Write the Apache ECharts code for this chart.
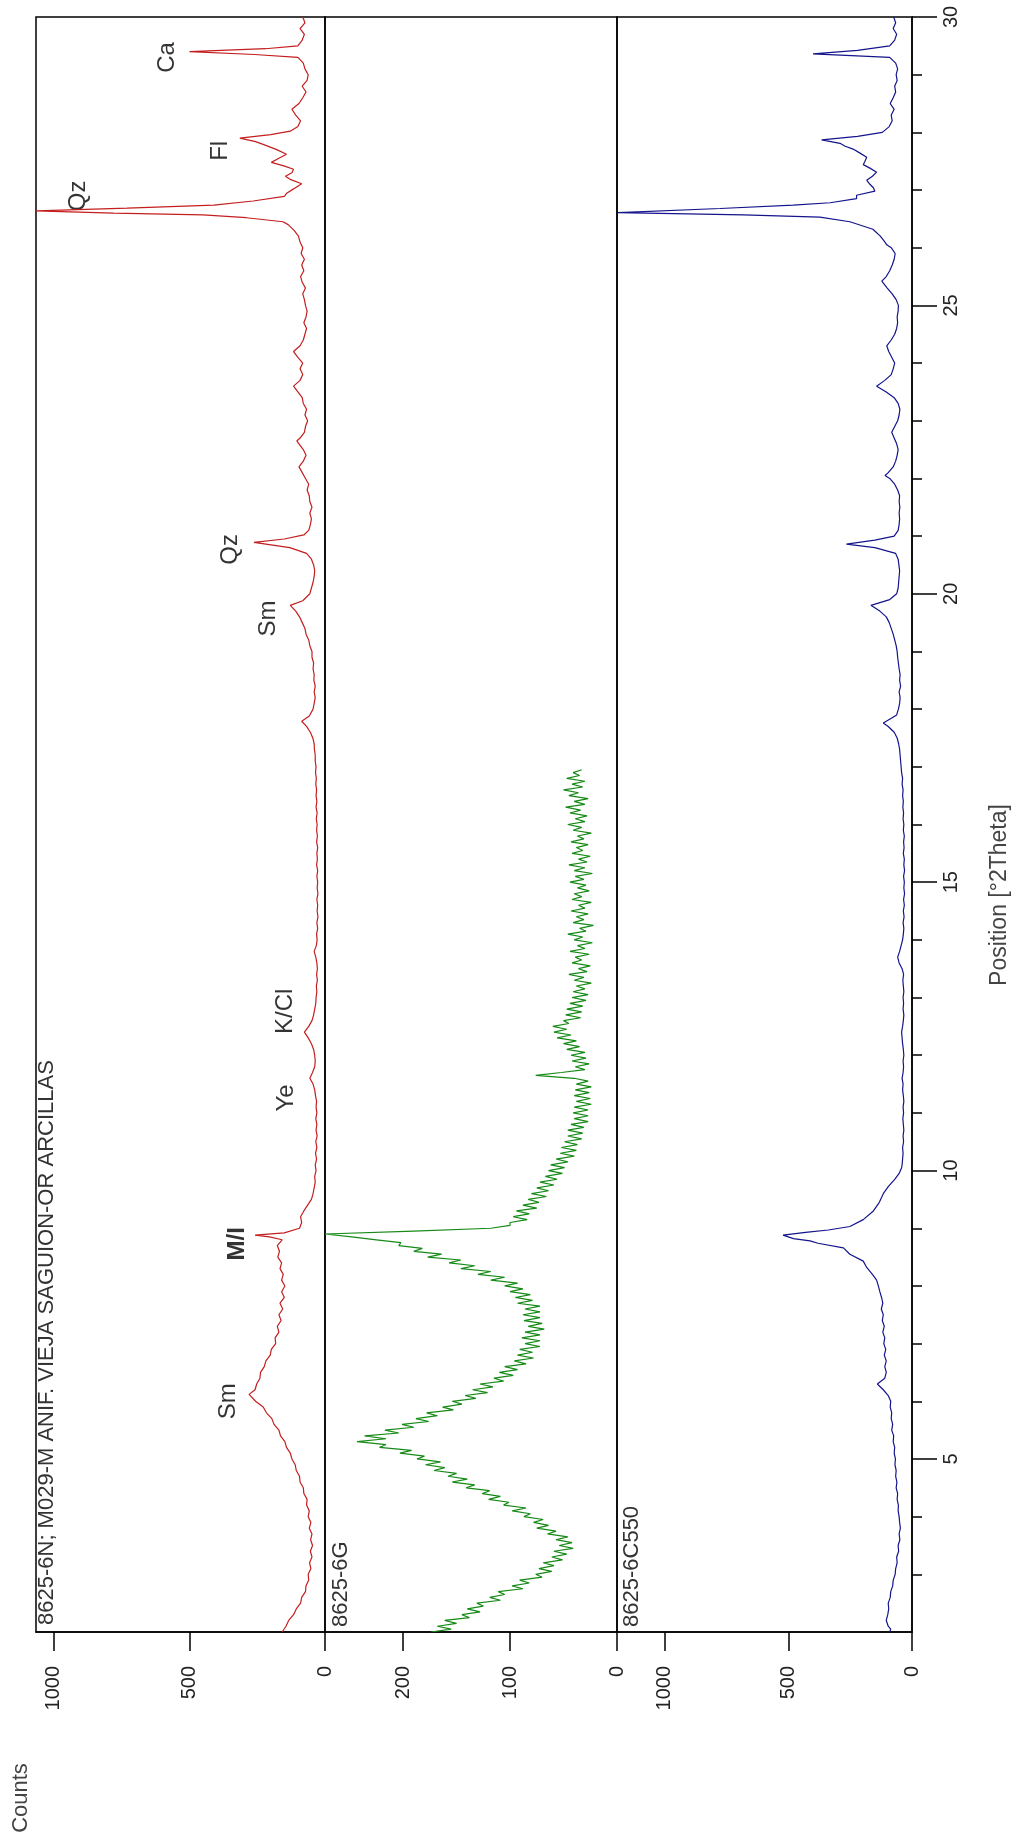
<!DOCTYPE html>
<html><head><meta charset="utf-8">
<script src="https://cdn.jsdelivr.net/npm/echarts@6/dist/echarts.min.js"></script>
<style>html,body{margin:0;padding:0;background:#fff}#c{width:1020px;height:1843px}</style>
</head><body><div id="c"></div>
<script>
// [2theta, counts]
const redScan = [[2.0,158],[2.1,144],[2.2,134],[2.3,116],[2.4,106],[2.5,90],[2.6,86],[2.7,72],[2.8,70],[2.9,60],[3.0,62],[3.1,52],[3.2,57],[3.3,48],[3.4,54],[3.5,46],[3.6,53],[3.7,48],[3.8,58],[3.9,52],[4.0,62],[4.1,58],[4.2,68],[4.3,66],[4.4,78],[4.5,80],[4.6,92],[4.7,94],[4.8,106],[4.9,110],[5.0,122],[5.1,128],[5.2,142],[5.3,148],[5.4,164],[5.5,170],[5.6,188],[5.7,196],[5.8,216],[5.9,228],[6.0,256],[6.12,280],[6.2,258],[6.3,252],[6.4,240],[6.5,238],[6.6,224],[6.7,218],[6.8,202],[6.9,198],[7.0,182],[7.1,184],[7.2,170],[7.3,176],[7.4,162],[7.5,170],[7.6,156],[7.7,166],[7.8,150],[7.9,160],[8.0,148],[8.1,160],[8.2,154],[8.3,166],[8.4,160],[8.5,174],[8.6,168],[8.7,176],[8.8,158],[8.85,205],[8.88,258],[8.92,150],[9.0,94],[9.1,86],[9.2,90],[9.3,78],[9.4,64],[9.5,50],[9.6,44],[9.7,40],[9.8,36],[9.9,38],[10.0,33],[10.1,36],[10.2,31],[10.3,35],[10.4,30],[10.5,34],[10.6,29],[10.7,33],[10.8,30],[10.9,34],[11.0,30],[11.1,33],[11.2,31],[11.3,35],[11.4,38],[11.5,44],[11.6,56],[11.7,46],[11.8,38],[11.9,36],[12.0,38],[12.1,42],[12.2,50],[12.3,62],[12.4,76],[12.5,60],[12.6,48],[12.7,42],[12.8,38],[12.9,34],[13.0,33],[13.1,30],[13.2,32],[13.3,28],[13.4,31],[13.5,28],[13.6,30],[13.7,34],[13.8,40],[13.9,32],[14.0,29],[14.1,31],[14.2,27],[14.3,30],[14.4,26],[14.5,29],[14.6,27],[14.7,30],[14.8,26],[14.9,29],[15.0,27],[15.1,30],[15.2,27],[15.3,31],[15.4,28],[15.5,30],[15.6,27],[15.7,31],[15.8,28],[15.9,31],[16.0,29],[16.1,32],[16.2,29],[16.3,33],[16.4,30],[16.5,33],[16.6,31],[16.7,34],[16.8,32],[16.9,35],[17.0,33],[17.1,36],[17.2,36],[17.3,39],[17.4,40],[17.5,45],[17.6,54],[17.7,68],[17.79,86],[17.88,58],[18.0,44],[18.1,40],[18.2,36],[18.3,40],[18.4,36],[18.5,41],[18.6,40],[18.7,44],[18.8,42],[18.9,48],[19.0,48],[19.1,56],[19.2,60],[19.3,70],[19.4,74],[19.5,84],[19.6,94],[19.7,108],[19.8,128],[19.88,82],[20.0,56],[20.1,50],[20.2,44],[20.3,40],[20.4,38],[20.5,42],[20.6,50],[20.7,68],[20.8,130],[20.89,262],[20.95,150],[21.02,78],[21.1,60],[21.2,54],[21.3,50],[21.4,56],[21.5,48],[21.6,56],[21.7,58],[21.8,66],[21.9,60],[22.0,72],[22.1,84],[22.2,96],[22.3,80],[22.4,70],[22.5,80],[22.6,96],[22.65,104],[22.7,92],[22.8,76],[22.9,72],[23.0,64],[23.1,74],[23.2,68],[23.3,80],[23.4,84],[23.5,100],[23.6,116],[23.7,92],[23.8,82],[23.9,92],[24.0,82],[24.1,100],[24.2,116],[24.3,92],[24.4,80],[24.5,74],[24.6,68],[24.7,78],[24.8,70],[24.9,66],[25.0,72],[25.1,76],[25.2,82],[25.3,72],[25.4,84],[25.5,90],[25.6,78],[25.7,86],[25.8,76],[25.9,88],[26.0,82],[26.1,92],[26.2,98],[26.3,114],[26.4,136],[26.45,155],[26.52,290],[26.57,450],[26.6,780],[26.64,1066],[26.685,730],[26.74,410],[26.81,265],[26.89,150],[26.95,140],[27.02,116],[27.11,86],[27.18,126],[27.24,146],[27.3,122],[27.36,116],[27.42,152],[27.48,198],[27.55,170],[27.62,142],[27.7,178],[27.77,216],[27.84,256],[27.9,314],[27.96,200],[28.02,128],[28.1,100],[28.2,90],[28.3,108],[28.4,122],[28.5,96],[28.6,82],[28.7,70],[28.8,84],[28.9,66],[29.0,62],[29.1,74],[29.2,80],[29.3,100],[29.35,260],[29.4,500],[29.45,220],[29.5,100],[29.6,84],[29.7,76],[29.8,92],[29.9,74],[30.0,82]];

const greenScan = [[2.0,174],[2.05,155],[2.1,168],[2.15,150],[2.2,161],[2.25,138],[2.3,145],[2.35,128],[2.4,140],[2.45,125],[2.5,131],[2.55,109],[2.6,119],[2.65,105],[2.7,111],[2.75,88],[2.8,98],[2.85,82],[2.9,91],[2.95,70],[3.0,76],[3.05,61],[3.1,73],[3.15,59],[3.2,69],[3.25,51],[3.3,61],[3.35,47],[3.4,59],[3.45,41],[3.5,54],[3.55,42],[3.6,57],[3.65,46],[3.7,65],[3.75,57],[3.8,75],[3.85,64],[3.9,78],[3.95,69],[4.0,87],[4.05,81],[4.1,98],[4.15,85],[4.2,106],[4.25,101],[4.3,120],[4.35,109],[4.4,126],[4.45,119],[4.5,141],[4.55,133],[4.6,154],[4.65,140],[4.7,158],[4.75,150],[4.8,171],[4.85,161],[4.9,179],[4.95,165],[5.0,187],[5.05,180],[5.1,203],[5.15,192],[5.2,222],[5.25,216],[5.3,243],[5.35,216],[5.4,236],[5.45,204],[5.5,217],[5.55,190],[5.6,201],[5.65,176],[5.7,188],[5.75,168],[5.8,178],[5.85,153],[5.9,163],[5.95,145],[6.0,154],[6.05,132],[6.1,142],[6.15,121],[6.2,135],[6.25,116],[6.3,128],[6.35,106],[6.4,115],[6.45,97],[6.5,110],[6.55,93],[6.6,105],[6.65,85],[6.7,96],[6.75,78],[6.8,93],[6.85,79],[6.9,91],[6.95,72],[7.0,86],[7.05,72],[7.1,89],[7.15,72],[7.2,86],[7.25,68],[7.3,83],[7.35,70],[7.4,87],[7.45,72],[7.5,88],[7.55,72],[7.6,86],[7.65,72],[7.7,93],[7.75,79],[7.8,95],[7.85,81],[7.9,100],[7.95,88],[8.0,105],[8.05,93],[8.1,118],[8.15,105],[8.2,130],[8.25,118],[8.3,146],[8.35,133],[8.4,157],[8.45,146],[8.5,177],[8.55,164],[8.6,190],[8.65,182],[8.7,204],[8.75,202],[8.8,225],[8.85,248],[8.9,273],[8.95,190],[9.0,118],[9.05,100],[9.1,100],[9.15,84],[9.2,97],[9.25,82],[9.3,94],[9.35,75],[9.4,88],[9.45,73],[9.5,83],[9.55,66],[9.6,80],[9.65,64],[9.7,75],[9.75,59],[9.8,72],[9.85,56],[9.9,67],[9.95,51],[10.0,64],[10.05,49],[10.1,62],[10.15,46],[10.2,57],[10.25,40],[10.3,53],[10.35,38],[10.4,52],[10.45,37],[10.5,49],[10.55,33],[10.6,46],[10.65,32],[10.7,46],[10.75,31],[10.8,43],[10.85,27],[10.9,40],[10.95,27],[11.0,41],[11.05,27],[11.1,40],[11.15,24],[11.2,38],[11.25,25],[11.3,40],[11.35,26],[11.4,39],[11.45,24],[11.5,38],[11.55,27],[11.6,40],[11.65,76],[11.7,52],[11.75,30],[11.8,39],[11.85,26],[11.9,42],[11.95,29],[12.0,43],[12.05,30],[12.1,47],[12.15,35],[12.2,50],[12.25,38],[12.3,56],[12.35,43],[12.4,59],[12.45,47],[12.5,60],[12.55,45],[12.6,50],[12.65,34],[12.7,48],[12.75,33],[12.8,47],[12.85,32],[12.9,44],[12.95,29],[13.0,42],[13.05,27],[13.1,41],[13.15,30],[13.2,38],[13.25,24],[13.3,40],[13.35,31],[13.4,45],[13.45,28],[13.5,36],[13.55,25],[13.6,42],[13.65,33],[13.7,39],[13.75,26],[13.8,44],[13.85,30],[13.9,37],[13.95,23],[14.0,40],[14.05,32],[14.1,46],[14.15,29],[14.2,35],[14.25,22],[14.3,41],[14.35,31],[14.4,38],[14.45,27],[14.5,43],[14.55,30],[14.6,36],[14.65,24],[14.7,42],[14.75,33],[14.8,40],[14.85,26],[14.9,37],[14.95,29],[15.0,44],[15.05,31],[15.1,39],[15.15,23],[15.2,40],[15.25,30],[15.3,45],[15.35,28],[15.4,36],[15.45,25],[15.5,42],[15.55,32],[15.6,38],[15.65,27],[15.7,43],[15.75,31],[15.8,37],[15.85,24],[15.9,41],[15.95,33],[16.0,46],[16.05,30],[16.1,39],[16.15,28],[16.2,44],[16.25,34],[16.3,48],[16.35,30],[16.4,40],[16.45,27],[16.5,45],[16.55,36],[16.6,50],[16.65,32],[16.7,42],[16.75,30],[16.8,47],[16.85,35],[16.9,41],[16.95,33]];

const blueScan = [[2.0,90],[2.05,86],[2.1,96],[2.2,104],[2.3,98],[2.4,94],[2.5,96],[2.6,88],[2.7,86],[2.8,78],[2.9,76],[3.0,68],[3.1,66],[3.2,60],[3.3,62],[3.4,54],[3.5,56],[3.6,49],[3.7,52],[3.8,47],[3.9,50],[4.0,52],[4.1,56],[4.2,55],[4.3,60],[4.4,58],[4.5,64],[4.6,61],[4.7,66],[4.8,64],[4.9,69],[5.0,67],[5.1,72],[5.2,70],[5.3,76],[5.4,74],[5.5,82],[5.6,78],[5.7,84],[5.8,82],[5.9,88],[6.0,86],[6.1,96],[6.2,116],[6.3,140],[6.4,110],[6.5,104],[6.6,110],[6.7,104],[6.8,112],[6.9,106],[7.0,114],[7.1,110],[7.2,118],[7.3,112],[7.4,120],[7.5,116],[7.6,124],[7.7,118],[7.8,123],[7.9,130],[8.0,136],[8.1,143],[8.2,160],[8.32,183],[8.43,197],[8.55,251],[8.66,277],[8.74,380],[8.78,412],[8.82,479],[8.88,521],[8.93,430],[8.97,338],[9.03,251],[9.15,197],[9.3,156],[9.45,132],[9.6,116],[9.72,96],[9.85,69],[9.95,52],[10.05,42],[10.1,40],[10.2,38],[10.3,36],[10.4,38],[10.5,34],[10.6,36],[10.7,33],[10.8,35],[10.9,37],[11.0,34],[11.1,36],[11.2,33],[11.3,35],[11.4,38],[11.5,36],[11.6,40],[11.7,36],[11.8,34],[11.9,36],[12.0,33],[12.1,35],[12.2,38],[12.3,40],[12.4,42],[12.5,38],[12.6,35],[12.7,33],[12.8,36],[12.9,34],[13.0,36],[13.1,33],[13.2,35],[13.3,37],[13.4,34],[13.5,40],[13.6,52],[13.7,58],[13.8,50],[13.9,44],[14.0,38],[14.1,35],[14.2,33],[14.3,36],[14.4,32],[14.5,35],[14.6,31],[14.7,34],[14.8,30],[14.9,33],[15.0,31],[15.1,34],[15.2,30],[15.3,33],[15.4,31],[15.5,35],[15.6,32],[15.7,34],[15.8,31],[15.9,35],[16.0,33],[16.1,36],[16.2,34],[16.3,37],[16.4,35],[16.5,38],[16.6,36],[16.7,40],[16.8,38],[16.9,42],[17.0,44],[17.1,46],[17.2,48],[17.3,50],[17.4,54],[17.5,60],[17.6,72],[17.7,96],[17.76,116],[17.85,80],[17.9,62],[18.0,55],[18.1,50],[18.2,48],[18.3,52],[18.4,46],[18.5,50],[18.6,48],[18.7,52],[18.8,55],[18.9,58],[19.0,60],[19.1,64],[19.2,70],[19.3,76],[19.4,84],[19.5,92],[19.6,104],[19.7,130],[19.8,166],[19.9,90],[20.0,62],[20.1,56],[20.2,54],[20.3,52],[20.4,50],[20.5,53],[20.6,56],[20.7,66],[20.8,150],[20.86,265],[20.93,150],[21.0,72],[21.1,56],[21.2,52],[21.3,50],[21.4,52],[21.5,49],[21.6,52],[21.7,50],[21.8,58],[21.9,70],[22.0,90],[22.05,109],[22.1,96],[22.2,76],[22.3,66],[22.4,60],[22.5,56],[22.6,62],[22.7,72],[22.8,82],[22.9,70],[23.0,58],[23.1,52],[23.2,49],[23.3,56],[23.4,72],[23.5,104],[23.6,143],[23.7,110],[23.8,84],[23.9,76],[24.0,70],[24.1,82],[24.2,94],[24.3,102],[24.4,84],[24.5,70],[24.6,62],[24.7,58],[24.8,60],[24.9,56],[25.0,55],[25.1,64],[25.2,80],[25.3,100],[25.42,122],[25.5,104],[25.6,90],[25.7,80],[25.8,72],[25.9,68],[26.0,84],[26.05,102],[26.1,110],[26.2,128],[26.32,158],[26.45,251],[26.53,372],[26.57,682],[26.61,1188],[26.68,776],[26.74,480],[26.78,331],[26.85,224],[26.91,224],[26.98,150],[27.04,156],[27.1,170],[27.17,183],[27.24,160],[27.31,143],[27.38,170],[27.44,197],[27.5,190],[27.57,183],[27.64,210],[27.71,238],[27.76,270],[27.81,291],[27.87,365],[27.93,220],[28.0,120],[28.1,92],[28.2,80],[28.3,84],[28.4,72],[28.5,88],[28.6,76],[28.7,66],[28.8,70],[28.9,60],[29.0,64],[29.1,58],[29.2,66],[29.3,90],[29.36,400],[29.42,220],[29.5,90],[29.6,70],[29.7,62],[29.8,76],[29.9,66],[30.0,74]];

const panelNames = ['8625-6N; M029-M ANIF. VIEJA SAGUION-OR ARCILLAS', '8625-6G', '8625-6C550'];
const peakNames = ['Ca', 'Fl', 'Qz', 'Qz', 'Sm', 'K/Cl', 'Ye', 'M/I', 'Sm'];
const peakPos = [29.30, 27.68, 26.90, 20.77, 19.57, 12.76, 11.26, 8.73, 6.00];
const peakCounts = [583, 387, 911, 350, 210, 148, 144, 325, 358];
const countTicks = [[0, 500, 1000], [0, 100, 200], [0, 500, 1000]];
const countMax = [1066, 273, 1192];
const posMin = 2, posMax = 30;
const posTicks = [5, 10, 15, 20, 25, 30];
const posMinor = [3, 4, 6, 7, 8, 9, 11, 12, 13, 14, 16, 17, 18, 19, 21, 22, 23, 24, 26, 27, 28, 29];
const posTitle = 'Position [°2Theta]';
const countTitle = 'Counts';

const chart = echarts.init(document.getElementById('c'), null, {renderer: 'canvas'});
const L = [36, 325, 617], W = [289, 292, 295], TOP = 17, H = 1615;
const FONT = 'Liberation Sans, Arial, sans-serif';
const colors = ['#c41e1e', '#168a16', '#14148c'];
const scans = [redScan, greenScan, blueScan];

const option = {
  animation: false,
  backgroundColor: '#fff',
  grid: L.map((l, i) => ({left: l, top: TOP, width: W[i], height: H, show: true, borderColor: '#000', borderWidth: 1.5, backgroundColor: 'transparent'})),
  xAxis: [0, 1, 2].map(i => ({
    type: 'value', gridIndex: i, inverse: true, min: 0, max: countMax[i], position: 'bottom',
    axisLine: {show: true, lineStyle: {color: '#000', width: 1.5}},
    axisTick: {show: true, inside: false, length: 19, lineStyle: {color: '#000', width: 1.5}, customValues: countTicks[i]},
    axisLabel: {show: true, rotate: 90, margin: 34, fontSize: 20, fontFamily: FONT, color: '#222', customValues: countTicks[i], formatter: v => String(v)},
    splitLine: {show: false}
  })),
  yAxis: [
    {type: 'value', gridIndex: 0, min: posMin, max: posMax, show: false},
    {type: 'value', gridIndex: 1, min: posMin, max: posMax, show: false},
    {type: 'value', gridIndex: 2, min: posMin, max: posMax, position: 'right',
      axisLine: {show: true, lineStyle: {color: '#000', width: 1.5}},
      axisTick: {show: true, length: 25, lineStyle: {color: '#000', width: 1.5}, customValues: posTicks},
      axisLabel: {show: true, rotate: 90, margin: 29, fontSize: 20, fontFamily: FONT, color: '#222', customValues: posTicks, formatter: v => String(v)},
      splitLine: {show: false}},
    {type: 'value', gridIndex: 2, min: posMin, max: posMax, position: 'right',
      axisLine: {show: false},
      axisTick: {show: true, length: 10, lineStyle: {color: '#000', width: 1.5}, customValues: posMinor},
      axisLabel: {show: false},
      splitLine: {show: false}}
  ],
  series: scans.map((d, i) => ({
    type: 'line', xAxisIndex: i, yAxisIndex: i, data: d, encode: {x: 1, y: 0},
    showSymbol: false, symbol: 'none', clip: true,
    lineStyle: {color: colors[i], width: 1.2}, itemStyle: {color: colors[i]}
  })).concat([{
    type: 'scatter', xAxisIndex: 0, yAxisIndex: 0, symbolSize: 1,
    itemStyle: {color: 'rgba(0,0,0,0)'},
    data: peakNames.map((n, i) => ({name: n, value: [peakCounts[i], peakPos[i]],
      label: n === 'M/I' ? {fontWeight: 'bold'} : {}})),
    label: {show: true, position: 'inside', rotate: 90, formatter: '{b}', fontSize: 24, fontFamily: FONT, color: '#000'}
  }]),
  graphic: [
    {type: 'text', x: 47, y: 1625, rotation: Math.PI / 2, style: {text: panelNames[0], fontSize: 22, fontFamily: FONT, fill: '#333', align: 'left', verticalAlign: 'middle'}},
    {type: 'text', x: 341, y: 1627, rotation: Math.PI / 2, style: {text: panelNames[1], fontSize: 22, fontFamily: FONT, fill: '#333', align: 'left', verticalAlign: 'middle'}},
    {type: 'text', x: 632, y: 1627, rotation: Math.PI / 2, style: {text: panelNames[2], fontSize: 22, fontFamily: FONT, fill: '#333', align: 'left', verticalAlign: 'middle'}},
    {type: 'text', x: 1000, y: 895, rotation: Math.PI / 2, style: {text: posTitle, fontSize: 23, fontFamily: FONT, fill: '#444', align: 'center', verticalAlign: 'middle'}},
    {type: 'text', x: 21, y: 1798, rotation: Math.PI / 2, style: {text: countTitle, fontSize: 22, fontFamily: FONT, fill: '#444', align: 'center', verticalAlign: 'middle'}}
  ]
};
chart.setOption(option);
</script></body></html>
